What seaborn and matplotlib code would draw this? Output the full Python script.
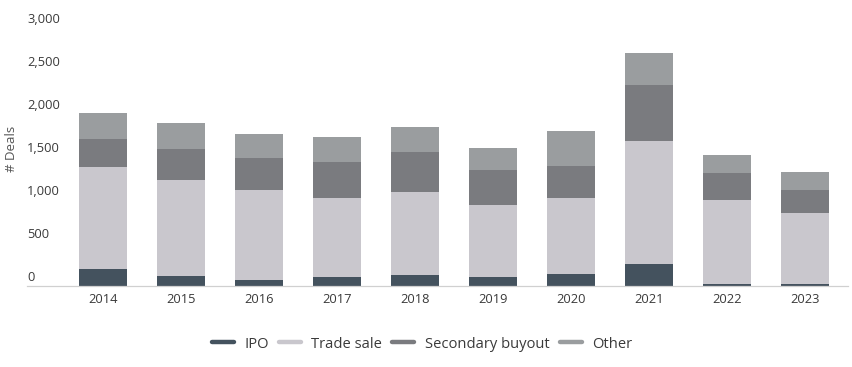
import pandas as pd
import matplotlib
matplotlib.use('Agg')
import matplotlib.pyplot as plt
import matplotlib.transforms as mtransforms
from matplotlib.lines import Line2D
import seaborn as sns

# Deals by exit route
years = ['2014', '2015', '2016', '2017', '2018', '2019', '2020', '2021', '2022', '2023']
ipo = [198, 116, 70, 105, 128, 105, 140, 256, 23, 23]
trade_sale = [1186, 1116, 1047, 919, 965, 837, 884, 1430, 977, 826]
secondary_buyout = [326, 360, 372, 419, 465, 407, 372, 651, 314, 267]
other = [302, 302, 279, 291, 291, 256, 407, 372, 209, 209]

series_names = ['IPO', 'Trade sale', 'Secondary buyout', 'Other']
colors = {'IPO': '#44525e', 'Trade sale': '#c9c7cd',
          'Secondary buyout': '#7a7b7f', 'Other': '#9a9d9f'}
y_ticks = [0, 500, 1000, 1500, 2000, 2500, 3000]

sns.set_theme(style='white')
plt.rcParams['font.family'] = ['Open Sans', 'DejaVu Sans']
text_color = '#3a3a3a'

df = pd.DataFrame({'year': years, 'IPO': ipo, 'Trade sale': trade_sale,
                   'Secondary buyout': secondary_buyout, 'Other': other})
# cumulative heights so the layers can be drawn top-down over each other
cum = df[series_names].cumsum(axis=1)
cum['year'] = df['year']

fig = plt.figure(figsize=(8.53, 3.67), dpi=100)
ax = fig.add_axes([27 / 853, 1 - 286 / 367, (848 - 27) / 853, 258 / 367])

for name in reversed(series_names):
    sns.barplot(data=cum, x='year', y=name, color=colors[name], width=0.615,
                saturation=1, linewidth=0, edgecolor='none', ax=ax, zorder=2)

ax.set_xlim((27 - 103) / 78, (848 - 103) / 78)
ax.set_ylim(0, 3000)
ax.set_yticks(y_ticks)
ax.set_yticklabels([f'{t:,}' for t in y_ticks])

sns.despine(ax=ax, left=True)
ax.spines['bottom'].set_color('#d0d0d0')
ax.spines['bottom'].set_linewidth(0.9)
ax.spines['bottom'].set_zorder(3)

ax.tick_params(axis='x', length=0, pad=5, labelsize=9.3, labelcolor=text_color)
ax.tick_params(axis='y', length=0, pad=0, labelsize=9.3, labelcolor=text_color)
offset = mtransforms.ScaledTranslation(0, 0.05, fig.dpi_scale_trans)
for lab in ax.get_yticklabels():
    lab.set_horizontalalignment('left')
    lab.set_verticalalignment('baseline')
    lab.set_transform(lab.get_transform() + offset)

ax.set_xlabel('')
ax.set_ylabel('# Deals', fontsize=9.5, color='#555555')
ax.yaxis.set_label_coords(-0.011, 0.53)

handles = [Line2D([0], [0], color=colors[n], lw=3.2) for n in series_names]
fig.legend(handles, series_names, loc='center', ncol=4, frameon=False,
           bbox_to_anchor=(422 / 853, 1 - 344 / 367), fontsize=10.6,
           handlelength=1.5, handletextpad=0.7, columnspacing=0.7,
           labelcolor=text_color)

fig.savefig('out.png', dpi=100)
